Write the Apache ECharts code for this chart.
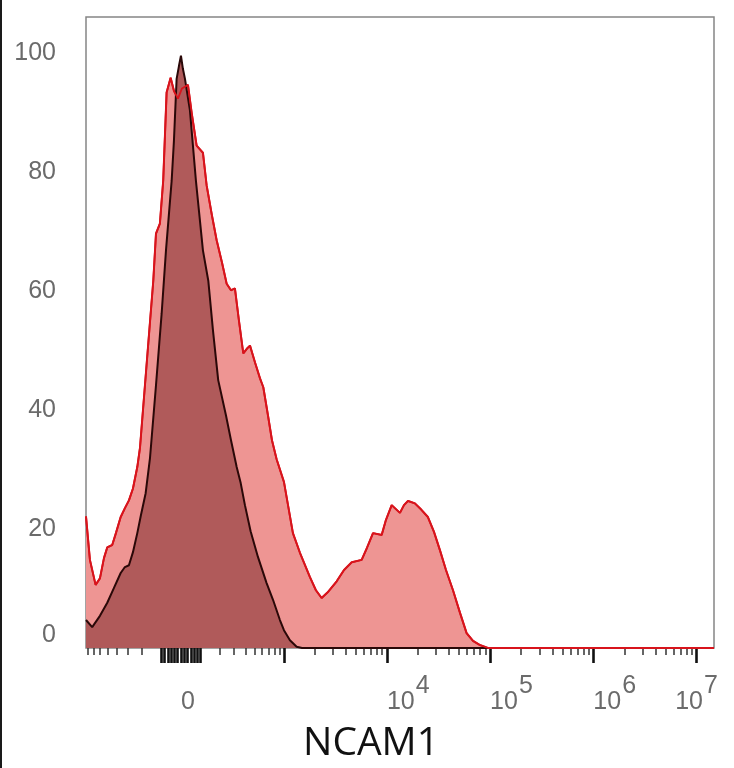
<!DOCTYPE html>
<html>
<head>
<meta charset="utf-8">
<script src="https://cdn.jsdelivr.net/npm/echarts@6/dist/echarts.min.js"></script>
<style>
html,body{margin:0;padding:0;background:#fff}
#c{width:734px;height:768px;position:relative}
#edge{position:absolute;left:0;top:0;width:2px;height:768px;background:#1a1a1a}
</style>
</head>
<body>
<div id="c"></div><div id="edge"></div>
<script>
// ---- display transform (arcsinh, FlowJo-like biexponential display) ----
const ASINH_COFACTOR = 202;
function toDisplay(v) { return Math.asinh(v / ASINH_COFACTOR) / Math.LN10; }

// axis extent in display units
const xDisplayMin = -0.92;
const xDisplayMax = 5.165;
const yMin = 0;
const yMax = 106;
const yInterval = 20;

// tick labels (raw fluorescence values and their exponents)
const xLabelValues = [0, 1e4, 1e5, 1e6, 1e7];
const xLabelBase = ['0', '10', '10', '10', '10'];
const xLabelExp = ['', '4', '5', '6', '7'];

// major ticks (raw values): cluster around zero + decades
const zeroClusterTicks = [-90, -75, -60, -45, -30, -15, 0, 15, 30, 45, 60, 75, 90];
const decadeTicks = [1e3, 1e4, 1e5, 1e6, 1e7];
// minor tick multipliers
const minorMultipliers = [2, 3, 4, 5, 6, 7, 8, 9];
const minorDecades = [100, 1000, 10000, 100000, 1000000];

// ---- series data (x in display units, y = % of max) ----
const redX = [-0.92,-0.882,-0.827,-0.785,-0.746,-0.714,-0.666,-0.630,-0.584,-0.543,-0.504,-0.465,-0.423,-0.397,-0.332,-0.268,-0.242,-0.204,-0.172,-0.139,-0.100,-0.068,-0.029,0.010,0.068,0.104,0.152,0.213,0.249,0.300,0.346,0.397,0.443,0.485,0.523,0.562,0.604,0.640,0.669,0.717,0.766,0.798,0.843,0.882,0.927,0.998,1.085,1.153,1.250,1.308,1.363,1.424,1.509,1.580,1.654,1.751,1.802,1.861,1.945,1.986,2.042,2.122,2.161,2.200,2.267,2.326,2.393,2.452,2.510,2.568,2.636,2.704,2.768,2.830,2.897,2.975,5.165];
const redY = [22.1,14.8,10.6,11.7,15.1,16.9,17.3,19.3,22.0,23.5,24.8,26.8,30.4,33.6,47.8,61.7,69.6,71.3,78.5,93.3,95.8,93.6,92.3,94.0,94.6,89.9,84.4,83.2,77.7,72.7,68.5,64.8,61.2,60.1,60.4,55.0,49.5,50.3,50.8,48.0,45.3,43.8,39.1,34.9,31.7,27.9,19.3,16.0,11.9,9.7,8.4,9.4,11.2,13.1,14.4,14.8,16.8,19.3,19.0,21.5,24.0,22.7,24.0,24.7,24.3,23.3,22.0,19.5,16.4,13.1,9.7,5.9,2.5,1.2,0.5,0,0];

const blackX = [-0.92,-0.860,-0.785,-0.714,-0.649,-0.584,-0.543,-0.504,-0.465,-0.423,-0.388,-0.342,-0.300,-0.242,-0.187,-0.145,-0.090,-0.068,-0.042,-0.019,0,0.019,0.039,0.087,0.145,0.213,0.265,0.310,0.361,0.436,0.485,0.540,0.579,0.620,0.675,0.746,0.830,0.892,0.959,0.998,1.056,1.121,1.173,5.165];
const blackY = [4.7,3.5,5.4,7.6,10.1,12.6,13.6,13.9,16.1,19.3,22.3,26.0,31.9,44.1,56.2,66.8,78.5,85.2,95.6,97.8,99.5,97.3,95.6,90.3,78.5,66.8,61.7,53.4,45.0,39.1,34.9,30.4,27.7,24.0,19.6,15.3,10.9,8.1,4.7,3.0,1.3,0.2,0,0];

const axisName = 'NCAM1';

// ---- build ----
function pairs(xs, ys) { return xs.map((x, i) => [x, ys[i]]); }
const inRange = v => v >= xDisplayMin && v <= xDisplayMax;

const majorTickPos = zeroClusterTicks.concat(decadeTicks).map(toDisplay).filter(inRange);
const minorRaw = [];
minorDecades.forEach(d => minorMultipliers.forEach(m => { minorRaw.push(m * d); if (d === 100) minorRaw.push(-m * d); }));
const minorTickPos = minorRaw.map(toDisplay).filter(inRange);
const labelPos = xLabelValues.map(toDisplay);

const labelColor = '#6b6b6b';
const labelFont = 'Liberation Sans';

const chart = echarts.init(document.getElementById('c'), null, { renderer: 'canvas' });
chart.setOption({
  animation: false,
  backgroundColor: '#fff',
  grid: {
    left: 86, right: 20, top: 17, bottom: 120,
    show: true, borderColor: '#858585', borderWidth: 1.5, backgroundColor: 'transparent'
  },
  xAxis: [
    {
      type: 'value', position: 'bottom', min: xDisplayMin, max: xDisplayMax,
      axisLine: { show: false, onZero: false },
      splitLine: { show: false },
      axisTick: { show: true, customValues: majorTickPos, length: 15, lineStyle: { color: '#111', width: 2.6 } },
      axisLabel: {
        show: true, customValues: labelPos, margin: 26, align: 'left', alignMaxLabel: 'center',
        formatter: function (val) {
          let idx = 0, best = Infinity;
          labelPos.forEach((p, i) => { const d = Math.abs(p - val); if (d < best) { best = d; idx = i; } });
          return xLabelExp[idx] ? '{b|' + xLabelBase[idx] + '}{s|' + xLabelExp[idx] + '}' : '{b|' + xLabelBase[idx] + '}';
        },
        rich: {
          b: { fontSize: 25, color: labelColor, fontFamily: labelFont, padding: [16, 0, 0, 0] },
          s: { fontSize: 25, color: labelColor, fontFamily: labelFont, padding: [0, 0, 16, 1] }
        }
      },
      name: axisName, nameLocation: 'middle', nameGap: 76,
      nameTextStyle: { fontSize: 39, color: '#111', fontFamily: 'Open Sans', padding: [0, 58, 0, 0] }
    },
    {
      type: 'value', position: 'bottom', min: xDisplayMin, max: xDisplayMax,
      axisLine: { show: false, onZero: false },
      splitLine: { show: false },
      axisLabel: { show: false },
      axisTick: { show: true, customValues: minorTickPos, length: 7, lineStyle: { color: '#333', width: 1.5 } }
    }
  ],
  yAxis: {
    type: 'value', min: yMin, max: yMax, interval: yInterval,
    axisLine: { show: false }, axisTick: { show: false }, splitLine: { show: false },
    axisLabel: {
      fontSize: 25, color: labelColor, fontFamily: labelFont, margin: 30,
      showMaxLabel: false, verticalAlignMinLabel: 'bottom',
      formatter: v => (v % yInterval === 0 ? String(v) : '')
    }
  },
  series: [
    {
      name: 'stained', type: 'line', xAxisIndex: 0, data: pairs(redX, redY),
      showSymbol: false, smooth: false, z: 2,
      lineStyle: { color: '#d8141c', width: 2 },
      areaStyle: { color: '#ee9593', opacity: 1 }
    },
    {
      name: 'control', type: 'line', xAxisIndex: 0, data: pairs(blackX, blackY),
      showSymbol: false, smooth: false, z: 3,
      lineStyle: { color: '#2a0808', width: 2 },
      areaStyle: { color: '#b05a5a', opacity: 1 }
    },
    {
      name: 'stained outline', type: 'line', xAxisIndex: 0, data: pairs(redX, redY),
      showSymbol: false, smooth: false, z: 4,
      lineStyle: { color: '#d8141c', width: 1.8 }
    }
  ]
});
</script>
</body>
</html>
